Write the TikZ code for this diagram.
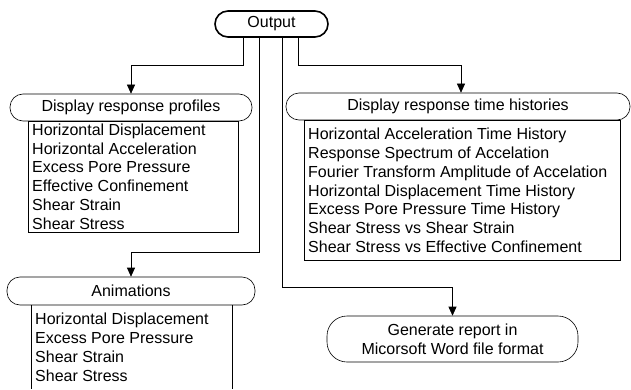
\documentclass[tikz,border=0pt]{standalone}
\usepackage{fontspec}
\setmainfont{Liberation Sans}
\usetikzlibrary{arrows.meta}
\tikzset{
  hdr/.style={draw, line width=0.6pt, rounded corners=13pt, inner sep=0pt, font=\fontsize{16}{18.8}\selectfont},
  outbox/.style={draw, line width=1.6pt, rounded corners=13pt, inner sep=0pt, font=\fontsize{16}{18.8}\selectfont},
  listtxt/.style={anchor=north west, align=left, inner sep=0pt, font=\fontsize{16}{18.8}\selectfont},
  lbox/.style={line width=0.6pt},
  conn/.style={line width=0.6pt, -{Triangle[length=9pt,width=8pt]}}
}
\begin{document}
\begin{tikzpicture}[x=1pt,y=1pt]
\useasboundingbox (0,0) rectangle (631,389);
% Output
\node[outbox, minimum width=113pt, minimum height=26pt] (out) at (271.5,365) {Output};
% Display response profiles
\node[hdr, minimum width=242pt, minimum height=27pt] (prof) at (131,281.5) {Display response profiles};
\coordinate (profA) at (28,268);
\coordinate (profB) at (238,157);
\draw[lbox] (profA) rectangle (profB);
\node[listtxt] (proflist) at (32,265.5) {Horizontal Displacement\\Horizontal Acceleration\\Excess Pore Pressure\\Effective Confinement\\Shear Strain\\Shear Stress};
% Display response time histories
\node[hdr, minimum width=344pt, minimum height=27pt] (hist) at (458,282.5) {Display response time histories};
\coordinate (histA) at (304,269);
\coordinate (histB) at (620,129);
\draw[lbox] (histA) rectangle (histB);
\node[listtxt] (histlist) at (308,261) {Horizontal Acceleration Time History\\Response Spectrum of Accelation\\Fourier Transform Amplitude of Accelation\\Horizontal Displacement Time History\\Excess Pore Pressure Time History\\Shear Stress vs Shear Strain\\Shear Stress vs Effective Confinement};
% Animations
\node[hdr, minimum width=248pt, minimum height=28pt] (anim) at (131,98) {Animations};
\coordinate (animA) at (31,84);
\coordinate (animB) at (232,84);
\draw[lbox] (animA) -- (31,0) (animB) -- (232,0);
\node[listtxt] (animlist) at (35,76) {Horizontal Displacement\\Excess Pore Pressure\\Shear Strain\\Shear Stress};
% Generate report
\node[hdr, rounded corners=20pt, minimum width=251pt, minimum height=46pt, align=center] (gen) at (452.5,50) {Generate report in\\Micorsoft Word file format};
% connectors
\draw[conn] ([xshift=-28.5pt]out.south) -- ++(0,-28) -| (prof.north);
\draw[conn] ([xshift=-12.5pt]out.south) -- ++(0,-214) -| (anim.north);
\draw[conn] ([xshift=10.5pt]out.south) -- ++(0,-249) -| (gen.north);
\draw[conn] ([xshift=26.5pt]out.south) -- ++(0,-28) -| ([xshift=3pt]hist.north);
\end{tikzpicture}
\end{document}
